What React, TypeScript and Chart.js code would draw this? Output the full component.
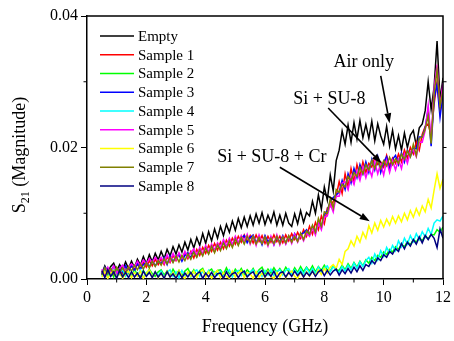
import React, { useEffect, useRef } from "react";
import { Chart, registerables } from "chart.js";

Chart.register(...registerables);

// Frequency sweep (GHz)
const FREQ_GHZ = [
  0.5, 0.6, 0.7, 0.8, 0.9, 1.0, 1.1, 1.2, 1.3, 1.4,
  1.5, 1.6, 1.7, 1.8, 1.9, 2.0, 2.1, 2.2, 2.3, 2.4,
  2.5, 2.6, 2.7, 2.8, 2.9, 3.0, 3.1, 3.2, 3.3, 3.4,
  3.5, 3.6, 3.7, 3.8, 3.9, 4.0, 4.1, 4.2, 4.3, 4.4,
  4.5, 4.6, 4.7, 4.8, 4.9, 5.0, 5.1, 5.2, 5.3, 5.4,
  5.5, 5.6, 5.7, 5.8, 5.9, 6.0, 6.1, 6.2, 6.3, 6.4,
  6.5, 6.6, 6.7, 6.8, 6.9, 7.0, 7.1, 7.2, 7.3, 7.4,
  7.5, 7.6, 7.7, 7.8, 7.9, 8.0, 8.1, 8.2, 8.3, 8.4,
  8.5, 8.6, 8.7, 8.8, 8.9, 9.0, 9.1, 9.2, 9.3, 9.4,
  9.5, 9.6, 9.7, 9.8, 9.9, 10.0, 10.1, 10.2, 10.3, 10.4,
  10.5, 10.6, 10.7, 10.8, 10.9, 11.0, 11.1, 11.2, 11.3, 11.4,
  11.5, 11.6, 11.7, 11.8, 11.9, 12.0,
];

// S21 magnitudes, stored in units of 1e-4
const VALUE_UNIT = 1e-4;

const EMPTY = [
  8, 20, 10, 19, 24, 12, 22, 14, 26, 16,
  27, 17, 30, 21, 34, 23, 37, 26, 39, 29,
  42, 31, 45, 35, 49, 38, 52, 41, 56, 44,
  60, 47, 63, 51, 69, 54, 72, 58, 76, 62,
  80, 66, 83, 71, 88, 74, 92, 78, 94, 80,
  96, 82, 99, 85, 101, 83, 97, 86, 102, 82,
  97, 82, 100, 85, 80, 99, 84, 104, 86, 101,
  96, 118, 100, 128, 106, 140, 120, 158, 134, 180,
  196, 225, 205, 234, 208, 238, 213, 241, 215, 235,
  214, 240, 210, 236, 218, 205, 232, 202, 226, 198,
  218, 196, 222, 200, 219, 226, 203, 230, 236, 256,
  300, 258, 292, 362, 272, 306,
];

const SAMPLE_1 = [
  12, 5, 15, 9, 18, 11, 16, 8, 19, 13,
  20, 12, 23, 16, 25, 18, 28, 20, 30, 22,
  31, 22, 34, 25, 36, 28, 38, 30, 40, 31,
  42, 32, 45, 36, 48, 39, 51, 42, 54, 44,
  56, 46, 59, 50, 62, 53, 65, 56, 67, 57,
  66, 55, 67, 57, 66, 54, 65, 56, 67, 57,
  65, 55, 67, 58, 69, 60, 71, 62, 75, 65,
  80, 68, 86, 75, 96, 84, 108, 110, 118, 126,
  148, 130, 160, 140, 168, 148, 174, 156, 178, 162,
  176, 170, 185, 174, 178, 170, 188, 172, 184, 176,
  190, 178, 196, 184, 200, 190, 208, 196, 220, 232,
  236, 218, 266, 300, 254, 294,
];

const SAMPLE_2 = [
  6, 15, 5, 13, 3, 16, 7, 4, 14, 8,
  5, 14, 7, 3, 13, 6, 15, 8, 4, 11,
  14, 6, 12, 4, 15, 7, 13, 5, 12, 16,
  7, 14, 5, 13, 16, 6, 12, 15, 7, 13,
  14, 7, 17, 8, 6, 15, 9, 16, 7, 14,
  9, 16, 7, 14, 18, 8, 15, 9, 17, 10,
  16, 9, 18, 11, 8, 17, 10, 19, 11, 18,
  12, 20, 11, 19, 13, 21, 14, 12, 20, 14,
  13, 21, 14, 23, 16, 25, 18, 27, 20, 29,
  24, 33, 28, 36, 33, 41, 37, 45, 41, 49,
  45, 53, 49, 57, 52, 60, 56, 63, 58, 66,
  61, 68, 67, 75, 71, 79,
];

const SAMPLE_3 = [
  7, 18, 11, 13, 19, 8, 17, 11, 20, 10,
  21, 13, 24, 15, 22, 26, 18, 28, 20, 27,
  23, 33, 22, 35, 26, 34, 37, 27, 36, 40,
  32, 43, 34, 46, 37, 49, 39, 51, 42, 53,
  46, 57, 48, 60, 51, 63, 53, 62, 66, 55,
  63, 67, 55, 64, 52, 66, 56, 63, 52, 64,
  56, 66, 54, 65, 58, 69, 58, 68, 70, 75,
  67, 80, 70, 88, 78, 98, 104, 118, 124, 128,
  132, 150, 136, 160, 146, 168, 154, 174, 160, 178,
  162, 182, 166, 186, 162, 178, 186, 166, 182, 188,
  174, 192, 178, 196, 186, 200, 198, 216, 216, 230,
  258, 202, 274, 296, 246, 282,
];

const SAMPLE_4 = [
  4, 13, 2, 11, 15, 3, 10, 14, 4, 12,
  3, 11, 5, 14, 2, 10, 13, 4, 11, 5,
  12, 3, 10, 14, 4, 11, 2, 13, 5, 10,
  3, 11, 14, 4, 12, 5, 13, 3, 11, 6,
  12, 4, 10, 14, 3, 11, 13, 5, 12, 4,
  11, 14, 5, 12, 4, 13, 6, 15, 5, 12,
  14, 6, 13, 16, 7, 14, 8, 15, 7, 17,
  9, 16, 8, 18, 10, 17, 20, 11, 19, 13,
  10, 19, 12, 21, 14, 24, 16, 26, 19, 28,
  33, 24, 38, 29, 43, 34, 48, 40, 51, 43,
  58, 49, 62, 53, 66, 57, 69, 60, 72, 64,
  77, 68, 85, 90, 88, 96,
];

const SAMPLE_5 = [
  15, 7, 18, 10, 20, 9, 16, 21, 11, 18,
  23, 18, 27, 20, 29, 23, 31, 25, 33, 27,
  33, 24, 37, 27, 39, 29, 40, 31, 42, 33,
  40, 46, 36, 48, 38, 51, 41, 53, 44, 55,
  48, 60, 50, 62, 52, 65, 55, 66, 57, 68,
  53, 65, 51, 67, 55, 63, 50, 65, 52, 67,
  52, 64, 53, 65, 54, 68, 56, 67, 58, 70,
  65, 78, 67, 86, 75, 94, 96, 114, 102, 126,
  126, 146, 148, 136, 156, 144, 164, 150, 170, 154,
  170, 156, 178, 160, 176, 158, 180, 162, 180, 166,
  182, 168, 190, 176, 194, 196, 186, 208, 208, 226,
  264, 212, 290, 326, 262, 298,
];

const SAMPLE_6 = [
  3, 11, 1, 9, 13, 2, 10, 1, 8, 12,
  2, 10, 4, 12, 1, 9, 14, 3, 11, 2,
  9, 1, 12, 3, 10, 2, 13, 4, 1, 11,
  4, 12, 2, 10, 14, 3, 11, 1, 9, 13,
  2, 10, 4, 1, 12, 3, 9, 13, 2, 10,
  8, 1, 11, 3, 9, 2, 12, 4, 1, 10,
  3, 11, 2, 9, 12, 4, 1, 10, 3, 11,
  4, 12, 5, 14, 7, 16, 9, 18, 22, 16,
  30, 22, 42, 46, 58, 50, 65, 56, 71, 62,
  81, 70, 85, 74, 89, 79, 91, 82, 95, 85,
  96, 87, 100, 90, 104, 94, 107, 97, 111, 102,
  121, 108, 135, 160, 138, 152,
];

const SAMPLE_7 = [
  6, 17, 8, 16, 7, 18, 10, 17, 9, 19,
  12, 21, 14, 23, 15, 25, 17, 27, 19, 28,
  21, 31, 23, 33, 25, 35, 26, 36, 28, 38,
  30, 41, 33, 44, 35, 47, 38, 50, 40, 52,
  43, 55, 46, 58, 48, 61, 51, 63, 53, 65,
  55, 65, 53, 63, 54, 64, 52, 62, 54, 65,
  54, 64, 55, 66, 56, 65, 57, 70, 60, 73,
  68, 82, 71, 92, 80, 102, 100, 122, 108, 136,
  132, 144, 140, 156, 150, 162, 156, 170, 160, 174,
  166, 180, 168, 182, 168, 180, 172, 185, 174, 183,
  176, 190, 182, 195, 186, 205, 188, 214, 216, 228,
  248, 206, 282, 318, 262, 288,
];

const SAMPLE_8 = [
  13, 2, 14, 4, 11, 1, 13, 3, 10, 2,
  11, 3, 9, 1, 12, 4, 10, 2, 11, 3,
  9, 1, 11, 3, 8, 1, 10, 2, 9, 3,
  10, 2, 8, 11, 1, 9, 3, 10, 2, 8,
  9, 1, 11, 3, 8, 10, 2, 9, 12, 3,
  8, 11, 2, 9, 13, 3, 10, 4, 12, 2,
  9, 11, 3, 10, 4, 12, 5, 11, 3, 10,
  5, 12, 4, 11, 14, 5, 13, 6, 12, 15,
  6, 14, 8, 16, 9, 18, 11, 20, 13, 22,
  19, 28, 23, 32, 28, 37, 33, 42, 38, 46,
  42, 54, 46, 56, 50, 60, 53, 64, 55, 66,
  60, 68, 62, 48, 76, 62,
];

const SERIES_NAMES = ["Empty", "Sample 1", "Sample 2", "Sample 3", "Sample 4", "Sample 5", "Sample 6", "Sample 7", "Sample 8"];
const SERIES_VALUES = [EMPTY, SAMPLE_1, SAMPLE_2, SAMPLE_3, SAMPLE_4, SAMPLE_5, SAMPLE_6, SAMPLE_7, SAMPLE_8];
const SERIES_COLORS = ["#000000", "#ff0000", "#00ff00", "#0000ff", "#00ffff", "#ff00ff", "#ffff00", "#808000", "#000080"];

const X_MAJOR_STEP = 2;
const X_MINOR_TICKS = [1, 3, 5, 7, 9, 11];
const Y_MINOR_TICKS = [0.01, 0.03];
const Y_RIGHT_TICKS = [0.01, 0.02, 0.03];

const ANNOTATIONS = [
  { text: "Air only", at: [9.33, 0.0322], from: [9.9, 0.0309], to: [10.2, 0.0237] },
  { text: "Si + SU-8", at: [8.17, 0.0266], from: [8.13, 0.026], to: [9.93, 0.0176] },
  { text: "Si + SU-8 + Cr", at: [6.23, 0.0178], from: [6.5, 0.017], to: [9.53, 0.0088] },
];

const FONT = "'Liberation Serif', 'Times New Roman', serif";

const decorPlugin = {
  id: "decor",
  afterDraw(chart: any) {
    const { ctx, chartArea: a, scales } = chart;
    const xs = scales.x;
    const ys = scales.y;
    ctx.save();
    ctx.strokeStyle = "#000";
    ctx.fillStyle = "#000";

    // frame top & right
    ctx.lineWidth = 1.5;
    ctx.beginPath();
    ctx.moveTo(a.left, a.top);
    ctx.lineTo(a.right, a.top);
    ctx.lineTo(a.right, a.bottom);
    ctx.stroke();

    // minor ticks
    ctx.lineWidth = 1;
    ctx.beginPath();
    for (const v of X_MINOR_TICKS) {
      const px = xs.getPixelForValue(v);
      ctx.moveTo(px, a.bottom);
      ctx.lineTo(px, a.bottom + 3.5);
    }
    for (const v of Y_MINOR_TICKS) {
      const py = ys.getPixelForValue(v);
      ctx.moveTo(a.left - 3.5, py);
      ctx.lineTo(a.left, py);
    }
    for (const v of Y_RIGHT_TICKS) {
      const py = ys.getPixelForValue(v);
      ctx.moveTo(a.right, py);
      ctx.lineTo(a.right + 3.5, py);
    }
    ctx.stroke();

    // legend
    ctx.font = `15px ${FONT}`;
    ctx.textBaseline = "middle";
    ctx.textAlign = "left";
    SERIES_NAMES.forEach((name, i) => {
      const yy = a.top + 20 + i * 18.75;
      ctx.strokeStyle = SERIES_COLORS[i];
      ctx.lineWidth = 1.5;
      ctx.beginPath();
      ctx.moveTo(a.left + 13, yy);
      ctx.lineTo(a.left + 47, yy);
      ctx.stroke();
      ctx.fillStyle = "#000";
      ctx.fillText(name, a.left + 51, yy + 1);
    });

    // annotations
    ctx.strokeStyle = "#000";
    ctx.fillStyle = "#000";
    ctx.font = `18px ${FONT}`;
    ctx.textAlign = "center";
    ctx.textBaseline = "alphabetic";
    for (const an of ANNOTATIONS) {
      ctx.fillText(an.text, xs.getPixelForValue(an.at[0]), ys.getPixelForValue(an.at[1]));
      const x0 = xs.getPixelForValue(an.from[0]);
      const y0 = ys.getPixelForValue(an.from[1]);
      const x1 = xs.getPixelForValue(an.to[0]);
      const y1 = ys.getPixelForValue(an.to[1]);
      const ang = Math.atan2(y1 - y0, x1 - x0);
      const hl = 10;
      const hw = 3.5;
      const bx = x1 - hl * Math.cos(ang);
      const by = y1 - hl * Math.sin(ang);
      ctx.lineWidth = 1.6;
      ctx.beginPath();
      ctx.moveTo(x0, y0);
      ctx.lineTo(bx, by);
      ctx.stroke();
      ctx.beginPath();
      ctx.moveTo(x1, y1);
      ctx.lineTo(bx + hw * Math.sin(ang), by - hw * Math.cos(ang));
      ctx.lineTo(bx - hw * Math.sin(ang), by + hw * Math.cos(ang));
      ctx.closePath();
      ctx.fill();
    }

    // x axis title
    ctx.font = `18px ${FONT}`;
    ctx.textAlign = "center";
    ctx.textBaseline = "alphabetic";
    ctx.fillText("Frequency (GHz)", (a.left + a.right) / 2, 332);

    // y axis title with subscript
    ctx.save();
    ctx.translate(25, 155);
    ctx.rotate(-Math.PI / 2);
    ctx.textAlign = "left";
    const big = `18px ${FONT}`;
    const small = `12px ${FONT}`;
    ctx.font = big;
    const wS = ctx.measureText("S").width;
    const wRest = ctx.measureText(" (Magnitude)").width;
    ctx.font = small;
    const wSub = ctx.measureText("21").width;
    let cx = -(wS + wSub + wRest) / 2;
    ctx.font = big;
    ctx.fillText("S", cx, 0);
    cx += wS;
    ctx.font = small;
    ctx.fillText("21", cx, 4);
    cx += wSub;
    ctx.font = big;
    ctx.fillText(" (Magnitude)", cx, 0);
    ctx.restore();

    ctx.restore();
  },
};

export default function App() {
  const ref = useRef<HTMLCanvasElement | null>(null);

  useEffect(() => {
    if (!ref.current) return;
    const datasets = SERIES_NAMES.map((name, i) => ({
      label: name,
      data: FREQ_GHZ.map((f, k) => ({ x: f, y: SERIES_VALUES[i][k] * VALUE_UNIT })),
      borderColor: SERIES_COLORS[i],
      backgroundColor: SERIES_COLORS[i],
      borderWidth: 1.5,
      pointRadius: 0,
      tension: 0,
      fill: false,
      order: SERIES_NAMES.length - 1 - i,
    }));
    const chart = new Chart(ref.current, {
      type: "line",
      data: { datasets },
      plugins: [decorPlugin],
      options: {
        responsive: false,
        animation: false,
        layout: { padding: { left: 0, top: 16, right: 7, bottom: 0 } },
        plugins: { legend: { display: false }, tooltip: { enabled: false } },
        scales: {
          x: {
            type: "linear",
            min: 0,
            max: 12,
            afterFit: (s: any) => { s.height = 62; },
            border: { display: true, color: "#000", width: 1.5 },
            grid: { drawOnChartArea: false, drawTicks: true, tickLength: 6, color: "#000", tickWidth: 1 },
            ticks: {
              stepSize: X_MAJOR_STEP,
              color: "#000",
              font: { family: FONT, size: 16 },
              padding: 3,
              maxRotation: 0,
              callback: (v: any) => String(v),
            },
          },
          y: {
            type: "linear",
            min: 0,
            max: 0.04,
            afterFit: (s: any) => { s.width = 87; },
            border: { display: true, color: "#000", width: 1.5 },
            grid: { drawOnChartArea: false, drawTicks: true, tickLength: 6, color: "#000", tickWidth: 1 },
            ticks: {
              stepSize: 0.02,
              color: "#000",
              font: { family: FONT, size: 16 },
              padding: 3,
              callback: (v: any) => Number(v).toFixed(2),
            },
          },
        },
      },
    });
    return () => chart.destroy();
  }, []);

  return (
    <div style={{ position: "absolute", left: 0, top: 0, width: 454, height: 341, background: "#fff" }}>
      <canvas ref={ref} width={454} height={341} style={{ display: "block", width: 454, height: 341 }} />
    </div>
  );
}
